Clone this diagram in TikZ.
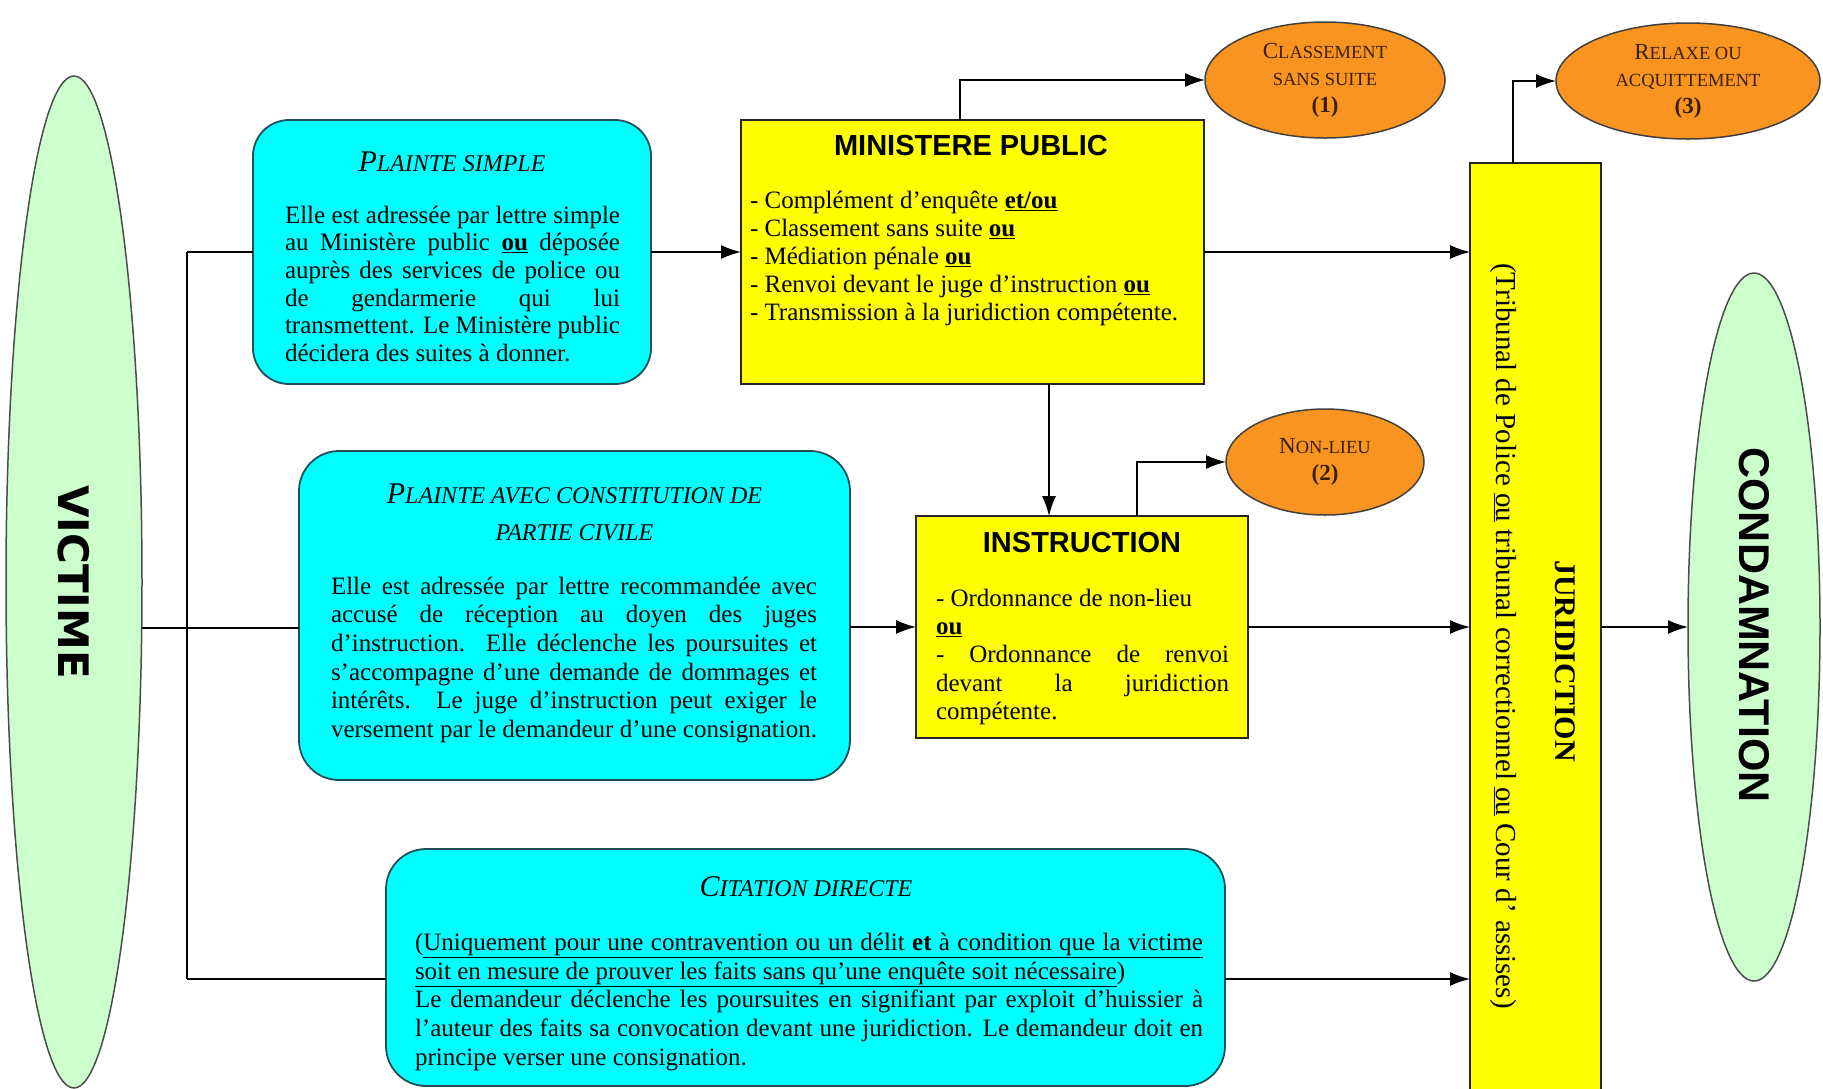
\documentclass[tikz,border=0pt]{standalone}
\usepackage{fontspec}
\setmainfont{Liberation Serif}
\newfontfamily\arialfont{Liberation Sans}
\newfontfamily\dejafont{DejaVu Sans}
\usetikzlibrary{shapes.geometric,arrows.meta}

\definecolor{boxcyan}{HTML}{00FFFF}
\definecolor{cyanedge}{HTML}{1F4E58}
\definecolor{boxyellow}{HTML}{FFFF00}
\definecolor{boxorange}{HTML}{FA9420}
\definecolor{ovalgreen}{HTML}{CCFFCC}
\definecolor{inkbrown}{HTML}{3A2000}

\newcommand{\ou}{\underline{\textbf{ou}}}
% reduced capitals used as small caps
\newcommand{\scT}[1]{{\fontsize{24}{28}\selectfont #1}}
\newcommand{\scE}[1]{{\fontsize{18.5}{27}\selectfont #1}}

\begin{document}
\begin{tikzpicture}[x=1pt,y=-1pt,
  every node/.style={inner sep=0pt, outer sep=0pt},
  link/.style={line width=1.6pt, draw=black},
  arr/.style={link, -{Latex[length=20pt,width=14pt]}},
  cyanbox/.style={rectangle, draw=cyanedge, line width=1.8pt, fill=boxcyan, rounded corners=36pt},
  yelbox/.style={rectangle, draw=black!85, line width=1.8pt, fill=boxyellow},
  orangeoval/.style={ellipse, draw=black!75, line width=1.5pt, fill=boxorange, text=inkbrown, align=center, font=\fontsize{23}{27}\selectfont},
  greenoval/.style={ellipse, draw=black!70, line width=1.5pt, fill=ovalgreen},
  body/.style={anchor=north west, align=justify},
  boxtitle/.style={font=\itshape\fontsize{30}{37}\selectfont, align=center},
  sanstitle/.style={font=\arialfont\bfseries\fontsize{29}{34}\selectfont},
]
\useasboundingbox (0,0) rectangle (1823,1088);
\fill[white] (0,0) rectangle (1823,1088);
\clip (0,0) rectangle (1823,1088);

% ---------- start and end ovals ----------
\node[greenoval, minimum width=136pt, minimum height=1012pt] (victime) at (74,582) {};
\node[rotate=-90, font=\dejafont\bfseries\fontsize{42}{46}\selectfont] (victimeTxt) at (victime.center) {VICTIME};

\node[greenoval, minimum width=132pt, minimum height=708pt] (cond) at (1754,627) {};
\node[rotate=-90, font=\arialfont\bfseries\fontsize{43}{48}\selectfont] (condTxt) at (1754,625) {CONDAMNATION};

% ---------- court column ----------
\node[yelbox, minimum width=131pt, minimum height=937pt] (jur) at (1535.5,631.5) {};
\node[rotate=-90, font=\bfseries\fontsize{30}{34}\selectfont] (jurTitle) at (1565,661) {JURIDICTION};
\node[rotate=-90, font=\fontsize{29}{34}\selectfont] (jurSub) at (1503,636)
  {(Tribunal de Police \underline{ou} tribunal correctionnel \underline{ou} Cour d’ assises)};

% ---------- complaint boxes ----------
\node[cyanbox, minimum width=398pt, minimum height=264pt] (ps) at (452,252) {};
\node[boxtitle] (psTitle) at (452,162) {P\scT{LAINTE SIMPLE}};
\node[body, text width=335pt, font=\fontsize{25}{27.6}\selectfont] (psBody) at (285,206)
  {Elle est adressée par lettre simple\linebreak
   au Ministère public \ou{} déposée\linebreak
   auprès des services de police ou\linebreak
   de gendarmerie qui lui\linebreak
   transmettent. Le Ministère public\linebreak
   décidera des suites à donner.};

\node[cyanbox, rounded corners=40pt, minimum width=551pt, minimum height=329pt] (pa) at (574.5,615.5) {};
\node[boxtitle] (paTitle) at (574.5,512.5) {P\scT{LAINTE AVEC CONSTITUTION DE}\\\scT{PARTIE CIVILE}};
\node[body, text width=486pt, font=\fontsize{25}{28.6}\selectfont] (paBody) at (331,577)
  {Elle est adressée par lettre recommandée avec\linebreak
   accusé de réception au doyen des juges\linebreak
   d’instruction. Elle déclenche les poursuites et\linebreak
   s’accompagne d’une demande de dommages et\linebreak
   intérêts. Le juge d’instruction peut exiger le\linebreak
   versement par le demandeur d’une consignation.};

\node[cyanbox, rounded corners=40pt, minimum width=839pt, minimum height=237pt] (cit) at (805.5,967.5) {};
\node[boxtitle] (citTitle) at (806,887) {C\scT{ITATION DIRECTE}};
\node[body, text width=788pt, font=\fontsize{25}{28.75}\selectfont] (citBody) at (415,933)
  {(\underline{\makebox[\dimexpr\linewidth-8.33pt\relax][s]{Uniquement pour une contravention ou un délit \textbf{et} à condition que la victime}}\\
   \underline{soit en mesure de prouver les faits sans qu’une enquête soit nécessaire})\\
   Le demandeur déclenche les poursuites en signifiant par exploit d’huissier à\linebreak
   l’auteur des faits sa convocation devant une juridiction. Le demandeur doit en\linebreak
   principe verser une consignation.};

% ---------- prosecution and investigation ----------
\node[yelbox, minimum width=463pt, minimum height=264pt] (mp) at (972.5,252) {};
\node[sanstitle] (mpTitle) at (971,146) {MINISTERE PUBLIC};
\node[anchor=north west, align=left, font=\fontsize{25}{28}\selectfont] (mpBody) at (750,191)
  {- Complément d’enquête \underline{\textbf{et/ou}}\\
   - Classement sans suite \ou\\
   - Médiation pénale \ou\\
   - Renvoi devant le juge d’instruction \ou\\
   - Transmission à la juridiction compétente.};

\node[yelbox, minimum width=332pt, minimum height=222pt] (ins) at (1082,627) {};
\node[sanstitle] (insTitle) at (1082,543) {INSTRUCTION};
\node[body, text width=293pt, font=\fontsize{25}{28.25}\selectfont] (insBody) at (936,589)
  {- Ordonnance de non-lieu\\
   \ou\\
   - Ordonnance de renvoi\linebreak
   devant la juridiction\linebreak
   compétente.};

% ---------- outcomes ----------
\node[orangeoval, minimum width=240pt, minimum height=116pt] (cls) at (1325,80)
  {C\scE{LASSEMENT}\\\scE{SANS SUITE}\\\textbf{(1)}};
\node[orangeoval, minimum width=264pt, minimum height=116pt] (rel) at (1688,81)
  {R\scE{ELAXE OU}\\\scE{ACQUITTEMENT}\\\textbf{(3)}};
\node[orangeoval, minimum width=198pt, minimum height=106pt] (nl) at (1325,462)
  {N\scE{ON-LIEU}\\\textbf{(2)}};

% ---------- connectors ----------
\coordinate (vout) at (141.6,628);
\coordinate (busTop) at (187,252);
\coordinate (busMid) at (187,628);
\coordinate (busBot) at (187,979);
\draw[link] (vout) -- (busMid);
\draw[link] (busTop) -- (busBot);
\draw[link] (busTop) -- (busTop -| ps.west);
\draw[link] (busMid) -- (busMid -| pa.west);
\draw[link] (busBot) -- (busBot -| cit.west);

\draw[arr] (ps.east) -- (mp.west);
\draw[arr] (mp.east) -- (mp.east -| jur.west);
\draw[arr] ([xshift=219pt]mp.north west) |- (cls.west);
\draw[arr] ([xshift=308pt]mp.south west) -- ([xshift=308pt]mp.south west |- ins.north);
\draw[arr] ([xshift=221pt]ins.north west) |- (nl.west);
\draw[arr] (pa.east |- ins.west) -- (ins.west);
\draw[arr] (ins.east) -- (ins.east -| jur.west);
\draw[arr] (cit.east |- busBot) -- (busBot -| jur.west);
\draw[arr] ([xshift=43pt]jur.north west) |- (rel.west);
\draw[arr] (cond.west -| jur.east) -- (cond.west);
\end{tikzpicture}
\end{document}
